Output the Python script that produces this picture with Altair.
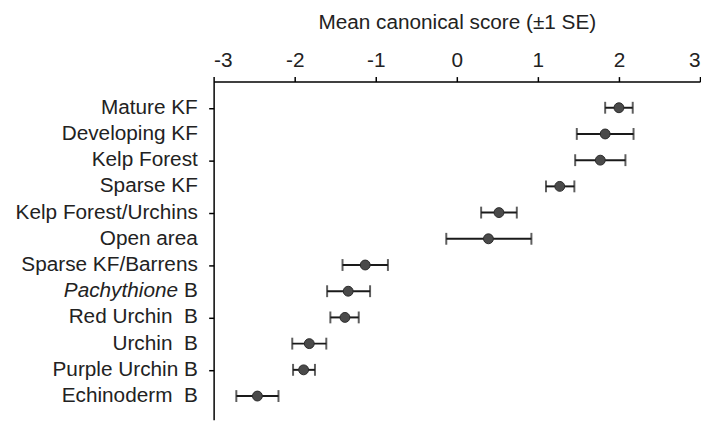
import altair as alt
import pandas as pd

labels = ["Mature KF", "Developing KF", "Kelp Forest", "Sparse KF", "Kelp Forest/Urchins",
          "Open area", "Sparse KF/Barrens", "Pachythione B", "Red Urchin\u00a0 B",
          "Urchin\u00a0 B", "Purple Urchin B", "Echinoderm\u00a0 B"]
means = [2.00, 1.83, 1.77, 1.27, 0.52, 0.39, -1.13, -1.34, -1.38, -1.82, -1.89, -2.46]
lows = [1.83, 1.48, 1.46, 1.10, 0.30, -0.13, -1.41, -1.60, -1.56, -2.03, -2.02, -2.72]
highs = [2.17, 2.18, 2.08, 1.45, 0.74, 0.92, -0.85, -1.07, -1.21, -1.61, -1.75, -2.20]
x_ticks = [-3, -2, -1, 0, 1, 2, 3]

rows = list(range(1, len(labels) + 1))
plain = [("B" if l.startswith("Pachythione") else l) for l in labels]
ital = [("Pachythione" if l.startswith("Pachythione") else "") for l in labels]

df = pd.DataFrame({"row": rows, "label": labels, "plain": plain, "ital": ital,
                   "mean": means, "low": lows, "high": highs})

FONT = "Liberation Sans"
FS = 21

xsc = alt.Scale(domain=[-3, 3], nice=False, zero=False)
ysc = alt.Scale(domain=[0, 12.9], reverse=True, nice=False, zero=False)

yenc = alt.Y("row:Q", scale=ysc,
             axis=alt.Axis(values=rows, labels=False, title=None, grid=False,
                           domainColor="black", domainWidth=1.5, tickColor="black",
                           tickWidth=1.5, tickSize=5))

base = alt.Chart(df)

rules = base.mark_rule(color="#1a1a1a", strokeWidth=2).encode(
    x=alt.X("low:Q", scale=xsc,
            axis=alt.Axis(orient="top", values=x_ticks, title="Mean canonical score (±1 SE)",
                          labelExpr="datum.value + ''", grid=False, domainColor="black",
                          domainWidth=1.5, tickColor="black", tickWidth=1.5, tickSize=5,
                          labelPadding=6, titlePadding=18, labelFont=FONT, titleFont=FONT,
                          labelFontSize=FS, titleFontSize=FS, titleFontWeight="normal",
                          labelColor="#222", titleColor="#222")),
    x2="high:Q",
    y=yenc,
)

cap_lo = base.mark_tick(orient="vertical", color="#1a1a1a", thickness=2, size=12).encode(
    x=alt.X("low:Q", scale=xsc), y=alt.Y("row:Q", scale=ysc))
cap_hi = base.mark_tick(orient="vertical", color="#1a1a1a", thickness=2, size=12).encode(
    x=alt.X("high:Q", scale=xsc), y=alt.Y("row:Q", scale=ysc))

points = base.mark_circle(size=100, color="#4a4a4a", opacity=1,
                          stroke="#2a2a2a", strokeWidth=1).encode(
    x=alt.X("mean:Q", scale=xsc), y=alt.Y("row:Q", scale=ysc))

txt = base.mark_text(align="right", baseline="middle", font=FONT, fontSize=FS,
                     color="#222").encode(
    x=alt.value(-16), y=alt.Y("row:Q", scale=ysc), text="plain:N")

txt_it = base.mark_text(align="right", baseline="middle", font=FONT, fontSize=FS,
                        fontStyle="italic", color="#222").encode(
    x=alt.value(-36), y=alt.Y("row:Q", scale=ysc), text="ital:N")

chart = alt.layer(rules, cap_lo, cap_hi, points, txt, txt_it).properties(
    width=492, height=342,
    autosize=alt.AutoSizeParams(type="none"),
    padding={"left": 208, "top": 72, "right": 1, "bottom": 0},
).configure_view(stroke=None)

chart.save("out.html", embed_options={"renderer": "svg", "actions": False})
